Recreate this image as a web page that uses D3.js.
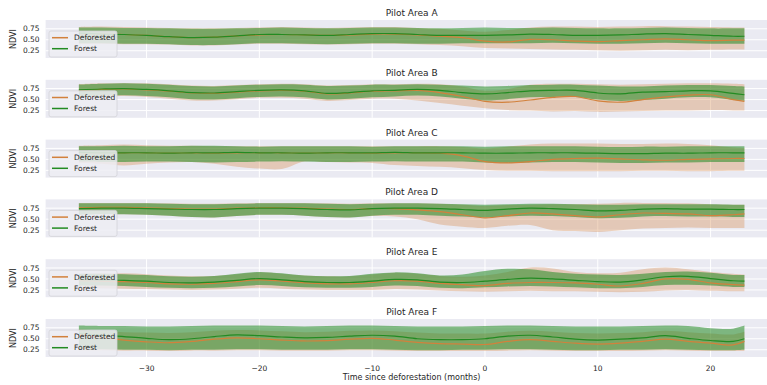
<!DOCTYPE html>
<html><head><meta charset="utf-8">
<script src="https://cdn.jsdelivr.net/npm/d3@7"></script>
<style>
body{margin:0;background:#fff}
svg{display:block}
text{font-family:"DejaVu Sans",sans-serif;fill:#262626}
</style>
</head><body><svg id="c" width="767" height="385"></svg>
<script>
const months = [-36,-34,-32,-30,-28,-26,-24,-22,-20,-18,-16,-14,-12,-10,-8,-6,-4,-2,0,2,4,6,8,10,12,14,16,18,20,22,23];
const areaNames = ["Pilot Area A","Pilot Area B","Pilot Area C","Pilot Area D","Pilot Area E","Pilot Area F"];
const seriesNames = ["Deforested","Forest"];
const xTicks = [-30,-20,-10,0,10,20];
const yTicks = [0.25,0.50,0.75];
const yTickLabels = ["0.25","0.50","0.75"];

// Pilot Area A
const forestMeanA = [0.65,0.63,0.62,0.60,0.57,0.55,0.56,0.59,0.62,0.62,0.61,0.60,0.62,0.64,0.64,0.62,0.60,0.60,0.60,0.61,0.63,0.62,0.60,0.60,0.61,0.63,0.64,0.62,0.60,0.58,0.58];
const forestHighA = [0.78,0.78,0.77,0.77,0.76,0.75,0.75,0.76,0.77,0.78,0.77,0.76,0.77,0.78,0.78,0.77,0.76,0.77,0.78,0.77,0.77,0.78,0.77,0.76,0.76,0.77,0.78,0.77,0.76,0.76,0.76];
const forestLowA  = [0.42,0.42,0.41,0.41,0.40,0.38,0.38,0.40,0.42,0.42,0.41,0.40,0.41,0.42,0.42,0.41,0.41,0.42,0.42,0.42,0.42,0.43,0.42,0.41,0.41,0.42,0.43,0.42,0.41,0.41,0.41];
const deforMeanA  = [0.64,0.63,0.62,0.60,0.57,0.55,0.56,0.59,0.61,0.62,0.61,0.60,0.61,0.63,0.63,0.61,0.58,0.55,0.47,0.45,0.51,0.50,0.47,0.46,0.48,0.50,0.52,0.50,0.48,0.49,0.49];
const deforHighA  = [0.79,0.80,0.79,0.78,0.77,0.76,0.76,0.77,0.78,0.79,0.78,0.77,0.78,0.79,0.79,0.77,0.75,0.71,0.68,0.72,0.78,0.80,0.80,0.79,0.80,0.81,0.81,0.80,0.79,0.78,0.78];
const deforLowA   = [0.40,0.41,0.40,0.40,0.39,0.37,0.37,0.39,0.41,0.41,0.40,0.39,0.40,0.41,0.41,0.40,0.38,0.35,0.31,0.30,0.29,0.28,0.27,0.26,0.25,0.26,0.27,0.26,0.27,0.28,0.28];

// Pilot Area B
const forestMeanB = [0.72,0.74,0.75,0.73,0.70,0.66,0.65,0.68,0.71,0.72,0.70,0.64,0.66,0.70,0.71,0.73,0.71,0.66,0.63,0.66,0.70,0.71,0.71,0.65,0.63,0.67,0.68,0.70,0.70,0.64,0.61];
const forestHighB = [0.84,0.86,0.87,0.86,0.84,0.81,0.80,0.82,0.84,0.85,0.84,0.81,0.82,0.84,0.84,0.85,0.84,0.82,0.80,0.81,0.83,0.84,0.84,0.82,0.80,0.80,0.82,0.83,0.83,0.81,0.80];
const forestLowB  = [0.57,0.59,0.60,0.58,0.55,0.51,0.50,0.53,0.56,0.57,0.55,0.50,0.52,0.55,0.57,0.59,0.57,0.52,0.48,0.51,0.55,0.56,0.56,0.50,0.47,0.49,0.52,0.55,0.55,0.49,0.47];
const deforMeanB  = [0.71,0.73,0.74,0.72,0.69,0.65,0.64,0.67,0.70,0.71,0.69,0.63,0.65,0.69,0.70,0.71,0.66,0.57,0.46,0.44,0.49,0.55,0.57,0.47,0.44,0.50,0.56,0.60,0.61,0.50,0.46];
const deforHighB  = [0.85,0.87,0.88,0.87,0.85,0.82,0.81,0.83,0.85,0.86,0.85,0.82,0.83,0.85,0.85,0.86,0.85,0.80,0.70,0.74,0.84,0.86,0.86,0.85,0.84,0.85,0.86,0.87,0.87,0.86,0.85];
const deforLowB   = [0.55,0.57,0.58,0.56,0.52,0.48,0.48,0.51,0.54,0.54,0.52,0.47,0.49,0.52,0.52,0.48,0.42,0.36,0.30,0.26,0.25,0.23,0.24,0.22,0.23,0.24,0.25,0.25,0.26,0.25,0.25];

// Pilot Area C
const forestMeanC = [0.66,0.65,0.65,0.65,0.64,0.65,0.65,0.66,0.65,0.65,0.64,0.65,0.65,0.65,0.66,0.65,0.65,0.65,0.64,0.64,0.65,0.65,0.65,0.64,0.63,0.63,0.64,0.64,0.65,0.65,0.65];
const forestHighC = [0.80,0.80,0.81,0.80,0.80,0.81,0.81,0.80,0.79,0.80,0.80,0.80,0.80,0.79,0.80,0.80,0.80,0.80,0.79,0.80,0.80,0.80,0.80,0.79,0.78,0.79,0.79,0.80,0.80,0.80,0.80];
const forestLowC  = [0.45,0.44,0.44,0.45,0.45,0.44,0.43,0.44,0.45,0.46,0.45,0.44,0.44,0.45,0.46,0.45,0.45,0.45,0.43,0.42,0.43,0.44,0.44,0.43,0.42,0.42,0.43,0.43,0.44,0.44,0.44];
const deforMeanC  = [0.65,0.65,0.65,0.65,0.64,0.65,0.64,0.65,0.65,0.65,0.64,0.65,0.65,0.64,0.65,0.65,0.64,0.58,0.45,0.42,0.45,0.50,0.52,0.53,0.51,0.49,0.48,0.50,0.51,0.52,0.52];
const deforHighC  = [0.81,0.82,0.84,0.82,0.81,0.81,0.80,0.80,0.80,0.80,0.80,0.80,0.80,0.80,0.80,0.80,0.80,0.78,0.75,0.79,0.84,0.86,0.86,0.86,0.85,0.85,0.86,0.85,0.82,0.77,0.76];
const deforLowC   = [0.42,0.40,0.36,0.40,0.43,0.44,0.40,0.33,0.29,0.28,0.45,0.44,0.43,0.42,0.37,0.35,0.33,0.30,0.26,0.24,0.24,0.23,0.23,0.23,0.23,0.24,0.24,0.23,0.23,0.24,0.24];

// Pilot Area D
const forestMeanD = [0.74,0.75,0.75,0.74,0.73,0.72,0.72,0.74,0.75,0.75,0.74,0.72,0.71,0.74,0.75,0.75,0.74,0.72,0.70,0.73,0.75,0.74,0.72,0.69,0.70,0.73,0.74,0.73,0.73,0.72,0.72];
const forestHighD = [0.86,0.86,0.86,0.86,0.85,0.84,0.84,0.85,0.86,0.86,0.86,0.85,0.84,0.85,0.86,0.86,0.85,0.84,0.83,0.84,0.85,0.85,0.84,0.83,0.83,0.84,0.84,0.84,0.84,0.83,0.83];
const forestLowD  = [0.60,0.61,0.61,0.60,0.58,0.55,0.54,0.57,0.60,0.60,0.58,0.55,0.54,0.58,0.60,0.60,0.58,0.56,0.54,0.56,0.58,0.57,0.55,0.52,0.53,0.56,0.57,0.56,0.56,0.55,0.55];
const deforMeanD  = [0.76,0.77,0.77,0.76,0.74,0.73,0.73,0.75,0.76,0.76,0.75,0.73,0.72,0.74,0.74,0.71,0.67,0.60,0.53,0.58,0.64,0.62,0.58,0.55,0.60,0.64,0.63,0.62,0.58,0.60,0.62];
const deforHighD  = [0.87,0.87,0.87,0.87,0.86,0.85,0.85,0.86,0.87,0.87,0.87,0.86,0.85,0.86,0.86,0.86,0.85,0.83,0.80,0.82,0.83,0.84,0.84,0.85,0.87,0.87,0.87,0.86,0.84,0.83,0.83];
const deforLowD   = [0.60,0.61,0.61,0.60,0.58,0.55,0.54,0.57,0.60,0.60,0.58,0.55,0.54,0.57,0.56,0.50,0.38,0.33,0.30,0.35,0.37,0.25,0.23,0.21,0.25,0.29,0.30,0.31,0.30,0.30,0.30];

// Pilot Area E
const forestMeanE = [0.49,0.48,0.47,0.45,0.42,0.41,0.43,0.47,0.51,0.48,0.44,0.42,0.42,0.45,0.49,0.48,0.43,0.42,0.45,0.49,0.52,0.50,0.47,0.44,0.43,0.48,0.55,0.56,0.51,0.46,0.45];
const forestHighE = [0.62,0.62,0.61,0.59,0.56,0.55,0.57,0.62,0.66,0.63,0.58,0.56,0.57,0.62,0.65,0.63,0.58,0.60,0.68,0.73,0.72,0.66,0.62,0.60,0.59,0.62,0.66,0.67,0.64,0.59,0.59];
const forestLowE  = [0.35,0.35,0.34,0.32,0.30,0.29,0.30,0.33,0.36,0.34,0.31,0.30,0.30,0.32,0.35,0.34,0.30,0.29,0.31,0.33,0.34,0.33,0.31,0.29,0.29,0.32,0.36,0.37,0.35,0.32,0.32];
const deforMeanE  = [0.46,0.45,0.44,0.42,0.39,0.38,0.40,0.44,0.48,0.45,0.41,0.39,0.39,0.42,0.46,0.45,0.40,0.37,0.35,0.40,0.42,0.42,0.41,0.38,0.34,0.40,0.50,0.49,0.41,0.37,0.36];
const deforHighE  = [0.62,0.63,0.63,0.61,0.58,0.56,0.57,0.61,0.65,0.62,0.58,0.56,0.56,0.60,0.64,0.62,0.57,0.55,0.58,0.66,0.76,0.74,0.66,0.63,0.64,0.72,0.76,0.72,0.66,0.62,0.60];
const deforLowE   = [0.30,0.29,0.28,0.27,0.26,0.25,0.26,0.28,0.30,0.28,0.26,0.25,0.25,0.25,0.27,0.26,0.24,0.22,0.21,0.22,0.23,0.22,0.22,0.21,0.20,0.21,0.24,0.25,0.23,0.22,0.22];

// Pilot Area F
const forestMeanF = [0.62,0.58,0.55,0.51,0.48,0.50,0.55,0.59,0.57,0.54,0.52,0.53,0.56,0.58,0.56,0.50,0.48,0.48,0.50,0.56,0.58,0.54,0.49,0.47,0.49,0.52,0.57,0.51,0.46,0.44,0.50];
const forestHighF = [0.80,0.79,0.79,0.78,0.78,0.79,0.80,0.80,0.80,0.79,0.78,0.79,0.80,0.80,0.79,0.78,0.78,0.78,0.79,0.80,0.80,0.79,0.78,0.78,0.78,0.79,0.80,0.79,0.74,0.73,0.80];
const forestLowF  = [0.26,0.26,0.25,0.25,0.24,0.25,0.25,0.26,0.26,0.25,0.25,0.25,0.26,0.26,0.25,0.24,0.24,0.25,0.25,0.26,0.26,0.25,0.24,0.24,0.25,0.25,0.26,0.25,0.24,0.24,0.25];
const deforMeanF  = [0.60,0.53,0.47,0.43,0.41,0.44,0.49,0.52,0.50,0.47,0.45,0.46,0.49,0.51,0.47,0.42,0.39,0.38,0.37,0.44,0.48,0.44,0.40,0.38,0.40,0.44,0.49,0.44,0.40,0.36,0.44];
const deforHighF  = [0.72,0.68,0.65,0.64,0.63,0.65,0.68,0.70,0.69,0.67,0.65,0.66,0.68,0.69,0.67,0.64,0.62,0.62,0.62,0.66,0.68,0.66,0.63,0.62,0.63,0.65,0.68,0.65,0.62,0.60,0.66];
const deforLowF   = [0.24,0.24,0.23,0.23,0.22,0.23,0.23,0.24,0.24,0.23,0.23,0.23,0.24,0.24,0.23,0.22,0.22,0.22,0.22,0.23,0.24,0.23,0.22,0.22,0.22,0.23,0.24,0.23,0.22,0.22,0.22];

const panels = [
  {name: areaNames[0], f:[forestMeanA,forestLowA,forestHighA], d:[deforMeanA,deforLowA,deforHighA]},
  {name: areaNames[1], f:[forestMeanB,forestLowB,forestHighB], d:[deforMeanB,deforLowB,deforHighB]},
  {name: areaNames[2], f:[forestMeanC,forestLowC,forestHighC], d:[deforMeanC,deforLowC,deforHighC]},
  {name: areaNames[3], f:[forestMeanD,forestLowD,forestHighD], d:[deforMeanD,deforLowD,deforHighD]},
  {name: areaNames[4], f:[forestMeanE,forestLowE,forestHighE], d:[deforMeanE,deforLowE,deforHighE]},
  {name: areaNames[5], f:[forestMeanF,forestLowF,forestHighF], d:[deforMeanF,deforLowF,deforHighF]}
];

const deforColor = "#d2813c";
const forestColor = "#228b22";
const bg = "#eaeaf2";

const svg = d3.select("#c");
const left = 45.6, right = 777.7;
const x = d3.scaleLinear().domain([-38.95, 25.95]).range([left, right]);
const panelH = 38, pitch = 59.8, top0 = 20;
const curve = d3.curveCatmullRom.alpha(0.5);

panels.forEach((p, i) => {
  const t = top0 + i * pitch;
  const y = d3.scaleLinear().domain([0.085, 0.95]).range([t + panelH, t]);
  const g = svg.append("g");
  g.append("rect").attr("x", left).attr("y", t).attr("width", right - left).attr("height", panelH).attr("fill", bg);
  const clipId = "clip" + i;
  svg.append("clipPath").attr("id", clipId).append("rect").attr("x", left).attr("y", t).attr("width", right - left).attr("height", panelH);
  // grid
  g.selectAll(".vg").data(xTicks).enter().append("line")
    .attr("x1", d => x(d)).attr("x2", d => x(d)).attr("y1", t).attr("y2", t + panelH)
    .attr("stroke", "#fff").attr("stroke-width", 1);
  g.selectAll(".hg").data(yTicks).enter().append("line")
    .attr("x1", left).attr("x2", right).attr("y1", d => y(d)).attr("y2", d => y(d))
    .attr("stroke", "#fff").attr("stroke-width", 1);
  // y tick labels
  g.selectAll(".yt").data(yTicks).enter().append("text")
    .attr("x", left - 6).attr("y", d => y(d)).attr("dy", "0.35em")
    .attr("text-anchor", "end").attr("font-size", 7.5)
    .text((d, k) => yTickLabels[k]);
  // y label
  g.append("text").attr("transform", `translate(16,${t + panelH / 2}) rotate(-90)`)
    .attr("text-anchor", "middle").attr("font-size", 8).text("NDVI");
  // title
  g.append("text").attr("x", (left + right) / 2).attr("y", t - 4)
    .attr("text-anchor", "middle").attr("font-size", 9).text(p.name);

  const plot = g.append("g").attr("clip-path", `url(#${clipId})`);
  const rows = s => months.map((m, k) => ({m, mean: s[0][k], lo: s[1][k], hi: s[2][k]}));
  const area = d3.area().x(d => x(d.m)).y0(d => y(d.lo)).y1(d => y(d.hi)).curve(curve);
  const line = d3.line().x(d => x(d.m)).y(d => y(d.mean)).curve(curve);
  const dRows = rows(p.d), fRows = rows(p.f);
  plot.append("path").attr("d", area(dRows)).attr("fill", deforColor).attr("fill-opacity", 0.32);
  plot.append("path").attr("d", area(fRows)).attr("fill", forestColor).attr("fill-opacity", 0.55);
  plot.append("path").attr("d", line(dRows)).attr("fill", "none").attr("stroke", deforColor).attr("stroke-width", 1.2);
  plot.append("path").attr("d", line(fRows)).attr("fill", "none").attr("stroke", forestColor).attr("stroke-width", 1.2);

  // legend
  const lg = g.append("g");
  lg.append("rect").attr("x", 49).attr("y", t + 11).attr("width", 68).attr("height", 26).attr("rx", 2)
    .attr("fill", "#ededf3").attr("fill-opacity", 0.85).attr("stroke", "#d3d3d8").attr("stroke-width", 0.8);
  const cols = [deforColor, forestColor];
  seriesNames.forEach((s, k) => {
    const yy = t + 17.7 + k * 11;
    lg.append("line").attr("x1", 52).attr("x2", 68).attr("y1", yy).attr("y2", yy)
      .attr("stroke", cols[k]).attr("stroke-width", 1.5);
    lg.append("text").attr("x", 74).attr("y", yy).attr("dy", "0.35em").attr("font-size", 7.5).text(s);
  });

  if (i === panels.length - 1) {
    g.selectAll(".xt").data(xTicks).enter().append("text")
      .attr("x", d => x(d)).attr("y", t + panelH + 13.5)
      .attr("text-anchor", "middle").attr("font-size", 7.5)
      .text(d => d < 0 ? "\u2212" + Math.abs(d) : String(d));
    g.append("text").attr("x", (left + right) / 2).attr("y", t + panelH + 23)
      .attr("text-anchor", "middle").attr("font-size", 8).text("Time since deforestation (months)");
  }
});
</script>
</body></html>
